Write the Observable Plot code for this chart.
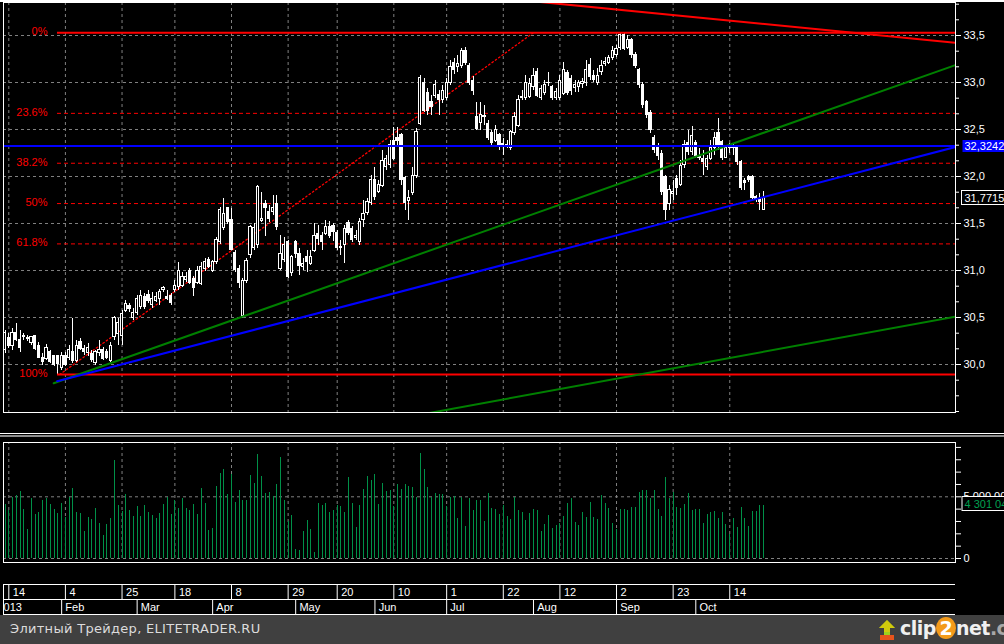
<!DOCTYPE html>
<html><head><meta charset="utf-8">
<script src="https://cdn.jsdelivr.net/npm/d3@7"></script>
<script src="https://cdn.jsdelivr.net/npm/@observablehq/plot@0.6"></script>
<style>
html,body{margin:0;padding:0;background:#000;width:1004px;height:644px;overflow:hidden}
#wrap{position:relative;width:1004px;height:644px;background:#000;overflow:hidden}
.panel{position:absolute;left:0}
.panel svg{display:block;background:transparent}
#footer{position:absolute;left:0;top:615px;width:1004px;height:29px;background:#404040;font-family:"DejaVu Sans",sans-serif}
#footer .src{position:absolute;left:10px;top:6px;font-size:13px;color:#dcdcdc;letter-spacing:0.3px}
#footer .logo{position:absolute;left:878px;top:2px;height:26px;font-family:"DejaVu Sans",sans-serif;font-weight:bold;font-size:19px;color:#f0f0f0;letter-spacing:-0.5px}
</style></head><body>
<div id="wrap">
  <div style="position:absolute;left:0;top:0;width:1004px;height:2px;background:#fff"></div>
  <div id="price" class="panel" style="top:0"></div>
  <div style="position:absolute;left:0;top:433px;width:1004px;height:1px;background:#fff"></div>
  <div style="position:absolute;left:0;top:435px;width:1004px;height:2px;background:#8c8c8c"></div>
  <div id="vol" class="panel" style="top:440px"></div>
  <div id="dates" class="panel" style="top:580px"></div>
  <div id="footer">
    <div class="src">Элитный Трейдер, ELITETRADER.RU</div>
    <div class="logo">
      <svg width="20" height="24" style="position:absolute;left:0;top:1px">
        <rect x="2" y="17" width="14" height="5" fill="#e8541c"/>
        <polygon points="9,2 17,10 12,10 12,17 6,17 6,10 1,10" fill="#9bd21e"/>
        <polygon points="9,2 17,10 12,10 12,14 6,14 6,10 1,10" fill="#f5c400" opacity="0.6"/>
      </svg>
      <span style="position:absolute;left:22px;top:0;white-space:nowrap">clip<span style="display:inline-block;background:#f39a1a;color:#fff;border-radius:50%;width:20px;height:22px;text-align:center;line-height:22px">2</span>net<span style="color:#a8a8a8">.com</span></span>
    </div>
  </div>
</div>
<script>
// ---------- data ----------
const firstIndex = -1; // trading-day index of first bar (Jan 11, 2013); Jan 14 = 0
const opens = [
30.15,30.28,30.20,30.34,30.26,30.29,30.28,30.23,30.30,30.20,
30.07,30.06,30.13,30.09,30.09,29.96,30.09,30.07,30.13,30.04,
30.24,30.17,30.12,30.11,30.02,30.12,30.15,30.13,30.04,30.29,
30.32,30.30,30.57,30.62,30.49,30.55,30.61,30.72,30.74,30.63,
30.68,30.70,30.79,30.72,30.73,30.79,30.82,30.84,30.90,31.00,
30.91,30.87,30.86,31.02,31.11,31.00,31.09,31.30,31.45,31.66,
31.54,31.19,31.02,30.52,30.89,31.16,31.24,31.27,31.53,31.71,
31.62,31.62,31.71,31.02,31.11,31.30,30.97,31.30,31.18,31.04,
31.14,31.07,31.21,31.39,31.37,31.39,31.46,31.47,31.40,31.24,
31.27,31.51,31.44,31.35,31.30,31.54,31.61,31.72,31.96,31.84,
31.90,32.10,32.12,32.38,32.41,32.44,31.98,31.74,31.82,32.01,
32.56,33.00,32.89,32.79,32.86,32.87,32.81,32.83,33.00,33.21,
33.16,33.18,33.34,33.18,33.02,32.63,32.57,32.63,32.56,32.46,
32.38,32.44,32.35,32.32,32.30,32.46,32.54,32.83,32.84,32.85,
32.95,33.11,32.84,32.89,32.99,32.95,32.84,32.84,32.88,33.10,
33.04,32.94,32.95,32.98,32.99,33.19,33.07,33.00,33.11,33.20,
33.21,33.26,33.29,33.37,33.51,33.37,33.45,33.29,33.13,32.97,
32.79,32.68,32.41,32.31,32.24,31.99,31.71,31.81,31.97,31.91,
32.12,32.36,32.26,32.36,32.22,32.19,32.10,32.19,32.30,32.46,
32.37,32.20,32.30,32.31,32.30,32.15,31.95,31.99,31.99,31.78,
31.76,31.64];
const closes = [
30.33,30.20,30.34,30.26,30.18,30.30,30.27,30.29,30.17,30.07,
30.03,30.18,30.03,30.00,30.01,30.09,30.00,30.15,30.04,30.20,
30.17,30.13,30.18,30.05,30.13,30.15,30.06,30.07,30.20,30.49,
30.44,30.54,30.64,30.59,30.55,30.70,30.73,30.61,30.68,30.70,
30.72,30.77,30.81,30.70,30.65,30.84,31.00,30.93,30.93,30.87,
30.81,31.00,31.04,31.09,31.04,31.09,31.32,31.64,31.60,31.52,
31.22,31.01,30.87,30.89,31.10,31.46,31.45,31.89,31.55,31.66,
31.55,31.67,31.46,31.18,31.27,30.93,31.14,31.18,31.05,31.07,
31.09,31.14,31.37,31.34,31.30,31.46,31.37,31.41,31.24,31.25,
31.44,31.40,31.32,31.37,31.52,31.60,31.73,31.96,31.78,31.91,
32.17,32.19,32.33,32.19,32.38,31.96,31.72,31.77,32.01,32.47,
33.05,32.70,32.70,32.74,32.97,32.81,32.91,33.00,33.16,33.13,
33.20,33.34,33.21,33.00,32.91,32.51,32.65,32.64,32.41,32.36,
32.50,32.31,32.32,32.34,32.47,32.63,32.81,32.85,32.99,32.98,
33.07,32.86,32.93,32.97,33.00,32.84,32.90,33.02,33.13,32.89,
32.91,32.97,32.99,33.01,33.13,33.06,33.03,33.07,33.18,33.22,
33.26,33.34,33.36,33.51,33.36,33.45,33.29,33.18,32.97,32.76,
32.65,32.49,32.28,32.22,31.83,31.64,31.86,31.83,31.88,32.11,
32.33,32.26,32.43,32.22,32.20,32.15,32.19,32.30,32.41,32.31,
32.20,32.30,32.31,32.30,32.15,31.88,31.93,31.96,31.77,31.76,
31.73,31.7715];
const highs = [
30.36,30.33,30.38,30.44,30.36,30.33,30.31,30.30,30.31,30.23,
30.12,30.21,30.15,30.10,30.10,30.13,30.13,30.20,30.49,30.26,
30.28,30.20,30.22,30.15,30.15,30.26,30.18,30.16,30.23,30.51,
30.49,30.57,30.68,30.65,30.60,30.73,30.79,30.76,30.79,30.77,
30.77,30.80,30.83,30.79,30.76,30.89,31.09,30.98,30.98,31.02,
30.94,31.04,31.09,31.13,31.14,31.11,31.35,31.67,31.77,31.66,
31.66,31.21,31.05,30.91,31.13,31.48,31.50,31.90,31.83,31.74,
31.69,31.80,31.80,31.37,31.35,31.32,31.16,31.32,31.23,31.13,
31.21,31.21,31.50,31.48,31.40,31.53,31.52,31.50,31.43,31.32,
31.48,31.53,31.47,31.43,31.55,31.74,31.77,32.01,32.10,31.96,
32.28,32.22,32.38,32.52,32.52,32.46,32.00,31.85,32.10,32.51,
33.07,33.04,32.94,32.86,33.02,32.91,32.97,33.04,33.23,33.26,
33.29,33.36,33.37,33.20,33.06,32.79,32.79,32.76,32.60,32.49,
32.54,32.46,32.40,32.38,32.49,32.68,32.86,32.91,33.07,33.04,
33.15,33.15,32.97,33.02,33.11,32.97,32.94,33.07,33.21,33.13,
33.07,33.02,33.02,33.04,33.23,33.26,33.13,33.15,33.23,33.27,
33.29,33.38,33.39,33.53,33.53,33.50,33.47,33.32,33.15,33.00,
32.81,32.70,32.44,32.35,32.28,32.01,31.90,31.96,32.01,32.17,
32.38,32.49,32.53,32.38,32.30,32.28,32.22,32.38,32.47,32.62,
32.38,32.33,32.35,32.34,32.32,32.17,31.98,32.01,32.01,31.80,
31.82,31.84];
const lows = [
30.12,30.17,30.15,30.24,30.13,30.26,30.25,30.20,30.15,30.06,
29.99,30.04,30.01,29.98,29.89,29.94,29.98,30.04,30.01,30.02,
30.15,30.10,30.09,30.02,29.99,30.09,30.04,30.05,30.02,30.26,
30.20,30.20,30.55,30.55,30.47,30.52,30.59,30.59,30.65,30.60,
30.66,30.63,30.77,30.68,30.63,30.77,30.79,30.82,30.87,30.85,
30.72,30.85,30.84,30.99,31.02,30.98,31.06,31.28,31.43,31.49,
31.21,30.98,30.81,30.49,30.86,31.13,31.21,31.23,31.51,31.36,
31.51,31.59,31.43,31.00,31.09,30.91,30.94,31.13,30.95,31.00,
30.98,31.05,31.19,31.27,31.21,31.37,31.34,31.31,31.21,31.16,
31.07,31.37,31.30,31.32,31.27,31.46,31.59,31.69,31.74,31.82,
31.88,32.06,32.09,32.17,32.33,31.90,31.64,31.53,31.80,31.98,
32.54,32.68,32.65,32.65,32.83,32.65,32.78,32.81,32.97,33.09,
33.11,33.15,33.18,32.97,32.86,32.49,32.49,32.54,32.38,32.33,
32.36,32.28,32.22,32.30,32.28,32.44,32.52,32.81,32.81,32.83,
32.91,32.84,32.81,32.86,32.96,32.81,32.81,32.81,32.86,32.86,
32.86,32.89,32.89,32.94,32.96,33.02,33.00,32.97,33.07,33.17,
33.19,33.23,33.27,33.34,33.34,33.35,33.26,33.15,32.94,32.72,
32.62,32.46,32.24,32.17,31.80,31.53,31.64,31.74,31.80,31.89,
32.09,32.22,32.22,32.19,32.17,32.01,32.06,32.17,32.22,32.28,
32.17,32.19,32.24,32.22,32.12,31.85,31.85,31.94,31.74,31.72,
31.64,31.64];
// volume, millions of shares
const volumes = [
4.35,3.87,4.94,5.08,5.40,4.00,2.34,4.84,3.55,3.71,
4.68,4.84,4.35,4.00,3.63,4.44,3.36,4.94,5.65,3.71,
3.66,2.20,3.31,3.15,4.09,2.82,1.85,2.74,3.25,7.98,
4.27,3.81,5.19,3.87,3.39,4.19,3.39,4.30,3.74,3.47,
3.28,3.68,4.35,4.97,3.55,4.70,4.09,4.84,4.09,3.92,
4.35,3.55,5.65,4.44,2.26,2.42,5.81,6.85,7.18,5.16,
6.77,4.52,5.48,4.68,4.68,6.69,6.05,8.39,6.61,5.27,
5.32,5.05,5.97,8.17,4.68,3.00,3.47,0.75,0.65,2.18,
3.06,2.34,0.48,4.44,4.27,4.44,3.71,3.87,4.27,4.25,
3.71,6.53,4.44,2.50,4.27,5.56,6.61,6.29,6.77,4.35,
6.05,5.40,5.48,4.25,5.97,5.56,5.97,5.81,5.73,4.97,
8.47,7.18,5.73,4.92,5.24,5.16,5.16,4.25,4.92,5.00,
3.23,4.94,2.58,4.84,3.87,4.68,4.68,2.98,5.24,4.09,
4.00,3.60,4.27,3.39,3.15,4.94,3.87,3.71,3.06,3.63,
3.95,3.87,2.18,2.74,3.47,2.42,2.66,2.82,3.39,4.44,
4.84,2.90,2.66,3.71,3.31,4.52,3.31,3.15,5.08,4.44,
4.03,2.82,2.34,3.95,3.95,3.87,4.17,4.11,5.35,5.48,
5.48,4.84,5.48,3.95,3.44,6.53,4.84,5.32,4.17,4.09,
4.35,5.24,3.87,3.95,3.95,2.82,3.55,3.71,3.79,3.23,
3.71,2.74,1.94,3.23,2.50,4.11,3.23,2.58,3.79,3.79,
4.33,4.301042];

const dayTickIndex  = [0,15,30,44,59,74,87,102,116,131,146,161,176,191];
const dayTickLabels = ["14","4","25","18","8","29","20","10","1","22","12","2","23","14"];
const monthIndex  = [-4,14,34,54,76,97,116,139,161,182];
const monthLabels = ["2013","Feb","Mar","Apr","May","Jun","Jul","Aug","Sep","Oct"];
const priceTicks = [30.0,30.5,31.0,31.5,32.0,32.5,33.0,33.5];
const priceMinorTicks = [29.5,29.667,29.833,30.167,30.333,30.667,30.833,31.167,31.333,31.667,31.833,32.167,32.333,32.667,32.833,33.167,33.333,33.667,33.833];
const volumeTicks = [0,1,2,3,4,5,6,7,8,9];

// Fibonacci retracement (low Feb 1 -> high Sep 4)
const fibHigh = 33.53, fibLow = 29.894, fibStartIndex = 12.9;
const fibRatios = [0, 0.236, 0.382, 0.5, 0.618, 1];
const fibLabels = ["0%","23.6%","38.2%","50%","61.8%","100%"];
const fibTrendIndex = [13.5, 139], fibTrendPrice = [29.894, 33.53];
// trend lines (two anchor points each)
const redTrendIndex = [140, 250.8],     redTrendPrice = [33.86, 33.422];
const greenUpperIndex = [11.9, 250.8],  greenUpperPrice = [29.80, 33.186];
const blueTrendIndex = [12.8, 250.8],   blueTrendPrice = [29.822, 32.314];
const greenLowerIndex = [100, 250.8],   greenLowerPrice = [29.40, 30.51];
const supportLevel = 32.3242;

// ---------- layout ----------
const W = 1004, xLeft = -1.404, xRight = 250.8;
const ML = 3, MR = 49;
const font = "'Liberation Sans', Arial, sans-serif";
const idxAt = px => xLeft + (px - ML) / (W - ML - MR) * (xRight - xLeft);
const priceTop = 33.8511, priceBottom = 29.4894; // y 2 .. 412
const priceAt = py => priceBottom + (412 - py) / 410 * (priceTop - priceBottom);
const volTop = 9.40, volBottom = -0.324;        // y 442 .. 562 (page)
const volAt = py => volBottom + (562 - py) / 120 * (volTop - volBottom);

const candles = opens.map((o, k) => ({i: firstIndex + k, o, h: highs[k], l: lows[k], c: closes[k]}));
const ups = candles.filter(d => d.c >= d.o), downs = candles.filter(d => d.c < d.o);
const fibData = fibRatios.map((r, k) => ({v: fibHigh - r * (fibHigh - fibLow), label: fibLabels[k], r}));
const pair = (xs, ys) => xs.map((x, k) => ({i: x, v: ys[k]}));
const vols = volumes.map((v, k) => ({i: firstIndex + k, v}));
const lastClose = closes[closes.length - 1];
const lastVol = volumes[volumes.length - 1];
const fmtP = d => d.toFixed(1).replace(".", ",");
const white = "white", red = "#ff0000", blue = "#0000ff", green = "#008000", grid = "#808080";

const price = Plot.plot({
  width: W, height: 415, marginLeft: ML, marginRight: MR, marginTop: 2, marginBottom: 3,
  x: {domain: [xLeft, xRight], axis: null},
  y: {domain: [priceBottom, priceTop], axis: null},
  style: {background: "transparent", color: "white", fontFamily: font, fontSize: "11px"},
  marks: [
    Plot.ruleY(priceTicks, {stroke: grid, strokeDasharray: "3,3"}),
    Plot.ruleX(dayTickIndex, {stroke: grid, strokeDasharray: "3,3"}),
    Plot.ruleY(fibData.filter(d => d.r > 0 && d.r < 1), {y: "v", x1: fibStartIndex, x2: xRight, stroke: red, strokeDasharray: "4,3"}),
    Plot.line(pair(fibTrendIndex, fibTrendPrice), {x: "i", y: "v", stroke: red, strokeWidth: 1.3, strokeDasharray: "1.5,2.6"}),
    Plot.ruleX(candles, {x: "i", y1: "l", y2: "h", stroke: white, strokeWidth: 1, shapeRendering: "crispEdges", clip: true}),
    Plot.rect(downs, {x1: d => d.i - 0.3, x2: d => d.i + 0.3, y1: "o", y2: "c", fill: white, stroke: white, strokeWidth: 1, shapeRendering: "crispEdges", clip: true}),
    Plot.rect(ups, {x1: d => d.i - 0.3, x2: d => d.i + 0.3, y1: "o", y2: "c", fill: "black", stroke: white, strokeWidth: 1, shapeRendering: "crispEdges", clip: true}),
    Plot.ruleY(fibData.filter(d => d.r === 0 || d.r === 1), {y: "v", x1: fibStartIndex, x2: xRight, stroke: red, strokeWidth: 2}),
    Plot.line(pair(greenUpperIndex, greenUpperPrice), {x: "i", y: "v", stroke: green, strokeWidth: 2, clip: true}),
    Plot.line(pair(greenLowerIndex, greenLowerPrice), {x: "i", y: "v", stroke: green, strokeWidth: 2, clip: true}),
    Plot.line(pair(blueTrendIndex, blueTrendPrice), {x: "i", y: "v", stroke: blue, strokeWidth: 2, clip: true}),
    Plot.line(pair(redTrendIndex, redTrendPrice), {x: "i", y: "v", stroke: red, strokeWidth: 2, clip: true}),
    Plot.ruleY([supportLevel], {stroke: blue, strokeWidth: 2}),
    Plot.text(fibData, {x: fibStartIndex, y: "v", text: "label", dx: -10, dy: -1, textAnchor: "end", fill: red, fontSize: 11, fontFamily: font}),
    Plot.frame({stroke: white}),
    Plot.axisY(priceMinorTicks, {anchor: "right", label: null, tickSize: 3, tickFormat: () => "", stroke: white}),
    Plot.axisY(priceTicks, {anchor: "right", label: null, tickSize: 5, tickPadding: 3, tickFormat: fmtP, fill: white, stroke: white, fontSize: 11, fontFamily: font}),
    // current-value labels on the price scale
    Plot.rect([supportLevel], {x1: idxAt(962.5), x2: idxAt(1010), y1: priceAt(152), y2: priceAt(140), fill: blue}),
    Plot.text([supportLevel], {x: idxAt(964), y: priceAt(146), text: d => d.toFixed(4).replace(".", ","), textAnchor: "start", fill: white, fontSize: 11, fontFamily: font}),
    Plot.rect([lastClose], {x1: idxAt(961.5), x2: idxAt(1010), y1: priceAt(204.5), y2: priceAt(190.5), fill: "black", stroke: white}),
    Plot.text([lastClose], {x: idxAt(964), y: priceAt(197.5), text: d => d.toFixed(4).replace(".", ","), textAnchor: "start", fill: white, fontSize: 11, fontFamily: font})
  ]
});
document.getElementById("price").append(price);

const vol = Plot.plot({
  width: W, height: 124, marginLeft: ML, marginRight: MR, marginTop: 2, marginBottom: 2,
  x: {domain: [xLeft, xRight], axis: null},
  y: {domain: [volBottom, volTop], axis: null},
  style: {background: "transparent", color: "white", fontFamily: font, fontSize: "11px"},
  marks: [
    Plot.ruleY([0, 5], {stroke: grid, strokeDasharray: "3,3"}),
    Plot.ruleX(dayTickIndex, {y1: 0, y2: volTop, stroke: grid, strokeDasharray: "3,3"}),
    Plot.ruleX(vols, {x: "i", y1: 0, y2: "v", stroke: "#009048", strokeWidth: 1, shapeRendering: "crispEdges"}),
    Plot.frame({stroke: white}),
    Plot.axisY(volumeTicks, {anchor: "right", label: null, tickSize: 5, tickPadding: 3, stroke: white, fill: white, fontSize: 11, fontFamily: font,
      tickFormat: d => d === 0 ? "0" : d === 5 ? "5 000 000" : ""}),
    Plot.rect([lastVol], {x1: idxAt(962), x2: idxAt(1010), y1: volAt(510.5), y2: volAt(496.5), fill: "black", stroke: white}),
    Plot.text([lastVol], {x: idxAt(964), y: volAt(503.5), text: d => d3.format(",")(Math.round(d * 1e6)).replace(/,/g, " "), textAnchor: "start", fill: "#00a050", fontSize: 11, fontFamily: font})
  ]
});
document.getElementById("vol").append(vol);

const dates = Plot.plot({
  width: W, height: 36, marginLeft: ML, marginRight: MR, marginTop: 4, marginBottom: 2,
  x: {domain: [xLeft, xRight], axis: null},
  y: {domain: [0, 2], axis: null},
  style: {background: "transparent", color: "white", fontFamily: font, fontSize: "11px"},
  marks: [
    Plot.ruleY([0, 1, 2], {x1: xLeft, x2: xRight, stroke: white}),
    Plot.ruleX([xLeft], {y1: 0, y2: 2, stroke: white}),
    Plot.ruleX(dayTickIndex, {y1: 1, y2: 2, stroke: white}),
    Plot.ruleX(monthIndex, {y1: 0, y2: 1, stroke: white}),
    Plot.text(dayTickIndex, {x: d => d, y: 1.5, text: (d, k) => dayTickLabels[k], dx: 4, textAnchor: "start", fill: white, fontSize: 11, fontFamily: font}),
    Plot.text(monthIndex, {x: d => d, y: 0.5, text: (d, k) => monthLabels[k], dx: 3.7, textAnchor: "start", fill: white, fontSize: 11, fontFamily: font, clip: true})
  ]
});
document.getElementById("dates").append(dates);
</script>
</body></html>
